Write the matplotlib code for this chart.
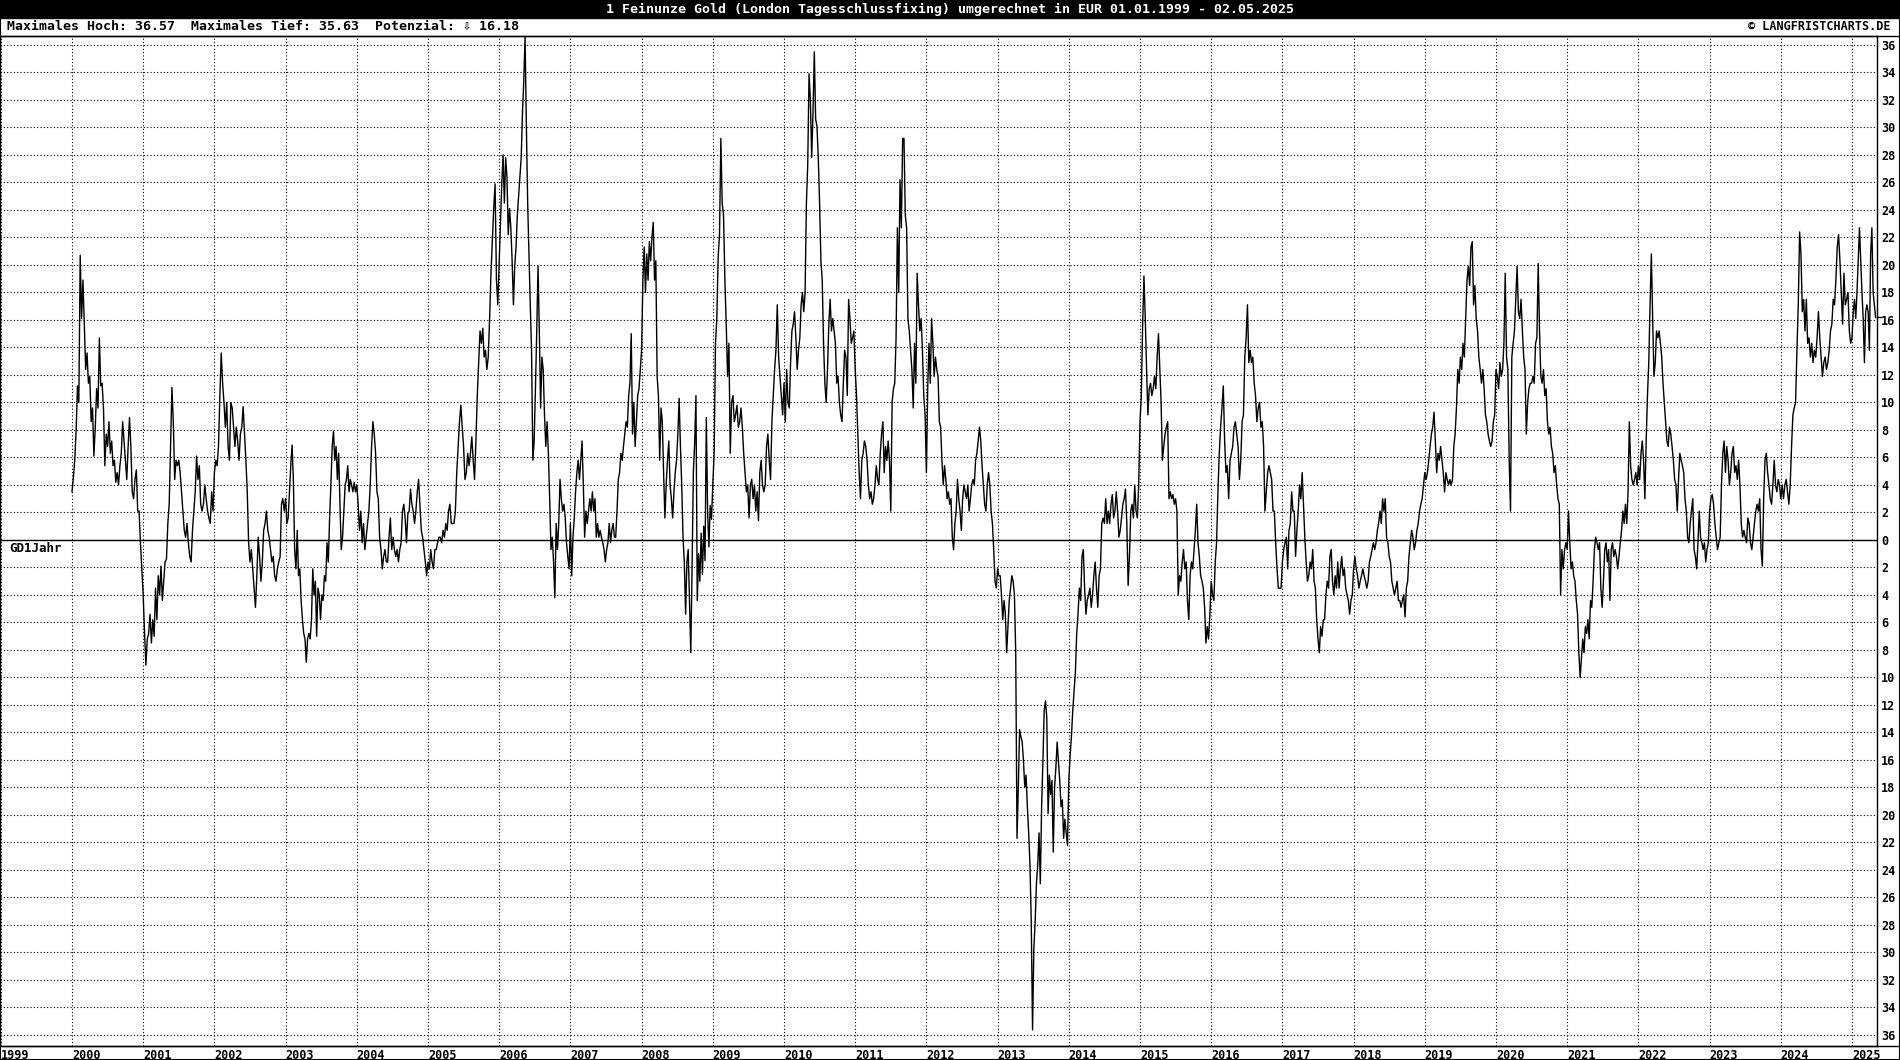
import matplotlib
matplotlib.use("Agg")
import matplotlib.pyplot as plt
import numpy as np
from matplotlib.lines import Line2D
from matplotlib.patches import Rectangle

plt.rcParams['font.family'] = ['DejaVu Sans Mono', 'DejaVu Sans']

title = "1 Feinunze Gold (London Tagesschlussfixing) umgerechnet in EUR 01.01.1999 - 02.05.2025"
info = "Maximales Hoch: 36.57  Maximales Tief: 35.63  Potenzial: \u21e9 16.18"
credit = "\u00a9 LANGFRISTCHARTS.DE"
series_label = "GD1Jahr"
current_value = 16.18

# GD1Jahr (% Abstand zum 1-Jahres-Durchschnitt), roughly weekly per year
gd_2000 = [3.5, 4.5, 5.8, 7.9, 11.2, 10.0, 20.7, 16.1, 18.9, 15.7, 12.4, 13.6, 11.4, 11.9, 8.6, 9.6, 6.1, 8.2,
           11.0, 9.6, 14.7, 11.2, 11.4, 9.6, 5.4, 7.7, 6.8, 8.6, 6.3, 7.2, 5.4, 5.8, 4.2, 4.9, 4.0, 5.4, 6.3, 8.6,
           7.2, 5.8, 4.4, 6.8, 8.9, 6.8, 3.5, 3.0, 4.4, 5.1, 2.1, 2.1, -0.2, -2.1]
gd_2001 = [-4.0, -6.8, -9.1, -7.2, -6.8, -5.4, -7.5, -5.8, -7.0, -3.5, -5.8, -2.6, -4.0, -1.9, -4.4, -3.0, -1.6,
           -1.4, 1.2, 2.6, 6.8, 11.1, 8.6, 4.4, 5.8, 5.4, 5.8, 4.9, 3.5, 2.1, 0.7, 0.2, 1.2, -0.2, -1.2, -1.6, 0.7,
           2.1, 3.5, 6.1, 4.4, 5.4, 2.6, 2.1, 2.6, 4.0, 3.0, 2.1, 1.6, 1.2, 3.5, 2.1]
gd_2002 = [4.9, 5.8, 5.4, 6.8, 10.5, 13.6, 11.4, 10.0, 8.2, 10.0, 6.8, 5.8, 10.0, 9.6, 8.2, 6.8, 8.2, 7.2, 5.8,
           7.7, 8.2, 9.7, 7.7, 5.8, 3.5, -0.2, -1.6, -0.7, -2.1, -3.5, -4.9, -2.6, 0.2, -1.2, -3.0, -1.6, 0.7, 1.2,
           2.1, 0.7, 0.2, -0.7, -1.6, -1.2, -2.6, -3.0, -2.1, -1.6, -1.2, 2.6, 3.0, 2.1]
gd_2003 = [3.0, 1.2, 1.6, 3.5, 5.4, 6.9, 4.4, -0.7, -2.1, 0.7, -2.6, -2.1, -4.4, -5.8, -6.8, -7.2, -8.9, -7.2,
           -6.8, -7.2, -5.8, -2.1, -4.0, -3.0, -7.0, -3.5, -4.0, -5.8, -4.0, -4.4, -2.6, -3.0, -0.2, -1.6, 1.6, 4.0,
           6.8, 7.9, 5.8, 6.8, 4.4, 6.3, 2.6, -0.7, 0.2, 2.1, 4.0, 4.4, 5.4, 3.5, 4.4, 4.0, 3.5, 4.2, 3.5]
gd_2004 = [4.0, 2.6, 0.7, 2.1, -0.2, 1.2, -0.7, 0.2, 1.2, 2.1, 4.0, 6.8, 8.6, 7.7, 6.3, 3.5, 3.0, 0.2, -0.7,
           -2.1, -1.2, -0.7, -1.6, -1.6, 0.2, 1.6, -0.7, 0.2, -0.7, -1.2, -0.7, -1.6, -0.7, -0.2, 2.1, 2.6, 1.6,
           -0.2, 1.9, 2.1, 3.7, 2.6, 2.1, 1.2, 2.1, 3.5, 4.4, 2.6, 0.7, 0.2, -0.7, -1.6, -2.6]
gd_2005 = [-1.6, -2.1, -0.7, -1.6, -2.1, -0.7, -0.7, -0.2, 0.2, 0.2, -0.2, 0.7, 0.2, 1.2, 0.7, 2.1, 2.6, 1.2,
           1.2, 1.2, 2.1, 4.9, 6.8, 8.6, 9.8, 8.2, 6.8, 4.4, 4.9, 6.3, 5.4, 6.3, 7.5, 5.8, 4.4, 7.2, 10.5, 12.9,
           15.2, 14.3, 15.4, 13.3, 13.8, 12.4, 13.3, 16.1, 19.4, 21.7, 24.1, 25.9, 18.9, 17.1]
gd_2006 = [20.3, 23.1, 25.9, 28.0, 24.5, 27.8, 26.4, 22.2, 24.1, 22.7, 20.3, 17.1, 19.9, 21.3, 23.6, 25.0, 26.4,
           27.8, 31.1, 33.4, 36.57, 30.1, 24.5, 20.8, 17.1, 13.8, 5.8, 7.2, 11.0, 15.2, 19.9, 15.2, 9.6, 13.3, 12.4,
           9.1, 6.8, 8.6, 6.3, 3.0, -0.7, 0.2, -1.6, -4.2, 1.2, -0.7, 1.2, 4.4, 3.0, 2.1, 2.6, 1.6, -0.2, -1.2, -2.1]
gd_2007 = [1.2, -2.6, 0.2, 1.6, 3.5, 4.9, 5.8, 4.4, 5.8, 7.2, 4.0, 0.2, 2.1, 1.2, 2.1, 3.0, 2.1, 3.5, 2.1, 3.0,
           0.2, 1.2, 0.2, 0.7, 0.2, -0.2, -0.7, -1.6, -0.7, -0.2, 1.2, -0.2, 0.7, 1.2, 0.2, 0.2, 2.1, 4.4, 4.9, 6.3,
           5.8, 6.8, 7.7, 8.6, 8.2, 10.5, 11.4, 15.0, 7.7, 10.0, 6.8, 8.6, 10.5, 11.0, 12.4]
gd_2008 = [13.8, 18.9, 21.3, 18.0, 20.8, 18.9, 21.7, 20.3, 22.0, 23.1, 18.9, 20.3, 11.9, 10.5, 5.8, 9.6, 8.6,
           4.9, 1.6, 4.0, 5.8, 7.2, 4.0, 3.0, 1.6, 3.5, 4.9, 5.8, 7.7, 10.3, 6.8, 4.0, 0.2, -1.6, -5.4, -1.6, -0.7,
           -4.4, -8.2, -2.0, 5.0, 7.0, 10.5, -4.4, -1.0, -3.0, 0.5, -2.5, 1.0, -1.5, 8.9, 2.0, -0.5, 2.5, 1.5]
gd_2009 = [4.0, 6.3, 14.3, 16.1, 20.6, 22.2, 29.2, 24.5, 23.6, 18.9, 15.7, 11.9, 14.3, 6.3, 10.0, 10.5, 8.6,
           9.1, 9.8, 8.2, 8.6, 9.6, 8.2, 6.3, 4.9, 3.5, 4.0, 1.6, 4.0, 4.4, 3.0, 4.0, 2.1, 3.5, 1.4, 4.9, 5.8, 4.0,
           3.5, 4.0, 6.8, 7.7, 5.8, 4.4, 8.6, 10.5, 12.4, 13.8, 17.1, 13.3, 11.9, 10.5, 9.1]
gd_2010 = [11.4, 8.6, 12.4, 10.0, 9.6, 12.9, 15.2, 15.7, 16.6, 14.7, 12.4, 13.8, 14.7, 17.1, 18.0, 16.6, 18.0,
           24.5, 27.3, 33.9, 32.0, 27.8, 31.1, 35.5, 30.6, 30.1, 27.8, 24.5, 20.3, 18.9, 14.3, 11.4, 10.0, 12.4,
           15.7, 17.5, 15.2, 16.1, 15.2, 14.3, 11.4, 11.9, 10.0, 9.1, 8.6, 11.4, 13.8, 13.3, 10.5, 17.5, 16.1, 14.3,
           14.7, 15.2]
gd_2011 = [12.4, 10.5, 7.7, 4.9, 3.0, 5.8, 6.3, 7.2, 6.8, 5.8, 4.0, 3.0, 3.5, 2.6, 3.0, 4.0, 5.4, 4.4, 4.0, 6.3,
           7.7, 8.6, 4.9, 6.8, 5.8, 7.2, 5.8, 2.1, 10.0, 11.0, 11.4, 14.7, 22.7, 18.0, 26.2, 22.7, 29.2, 29.2, 23.6,
           22.7, 16.1, 15.2, 13.8, 12.4, 9.6, 14.3, 11.4, 19.4, 17.1, 15.2, 16.1, 13.8, 10.5, 9.1]
gd_2012 = [4.9, 11.0, 14.3, 11.4, 16.1, 14.3, 11.9, 13.3, 12.4, 11.9, 8.6, 8.2, 5.8, 4.0, 5.4, 4.4, 3.0, 3.5,
           2.6, 3.0, 0.2, -0.7, 1.2, 2.1, 4.4, 3.0, 2.1, 0.7, 3.0, 4.0, 3.5, 3.0, 4.0, 2.1, 3.0, 4.0, 4.4, 4.0, 5.8,
           6.3, 7.2, 8.2, 7.2, 5.4, 4.0, 2.6, 2.1, 4.0, 4.9, 4.0, 2.1, 1.2, -0.7, -3.0, -3.5]
gd_2013 = [-2.1, -2.6, -2.6, -4.0, -5.8, -4.4, -5.4, -8.2, -6.3, -4.4, -3.5, -2.6, -3.0, -4.0, -8.2, -21.7,
           -18.0, -13.8, -14.3, -14.7, -16.1, -18.0, -17.1, -19.4, -21.3, -23.6, -27.8, -35.63, -29.7, -27.8, -25.0,
           -23.6, -21.3, -25.0, -19.4, -16.1, -12.4, -11.7, -12.9, -19.9, -17.1, -18.5, -17.5, -22.7, -18.0, -16.6,
           -14.7, -16.1, -17.5, -19.4, -18.9, -21.7, -20.3, -21.3, -22.2]
gd_2014 = [-17.5, -15.7, -14.3, -12.4, -11.0, -9.6, -6.8, -5.4, -3.5, -4.4, -1.2, -0.7, -3.5, -5.4, -4.4, -4.0,
           -3.5, -4.9, -4.0, -2.6, -1.6, -3.5, -4.9, -2.6, -2.1, 1.2, 1.6, 1.2, 3.0, 1.2, 2.1, 1.2, 2.6, 3.3, 1.6,
           2.1, 3.5, 2.1, 0.2, 0.7, 1.6, 2.6, 3.0, 3.7, 1.2, -3.3, -1.2, 2.1, 2.6, 1.6, 4.0, 2.1, 1.6, 4.0]
gd_2015 = [8.6, 10.5, 15.7, 19.2, 16.1, 12.4, 9.1, 11.0, 11.4, 10.5, 11.0, 11.9, 11.0, 13.3, 15.0, 12.4, 10.0,
           5.8, 6.8, 7.7, 8.2, 8.6, 3.0, 3.5, 3.0, 3.3, 2.6, 3.0, 2.1, -4.0, -2.6, -3.0, -1.6, -0.7, -2.1, -1.6,
           -4.4, -5.8, -2.6, -1.6, -2.1, -0.7, 0.7, 2.6, -0.2, -1.2, -2.6, -3.0, -3.5, -4.9, -7.5, -6.3, -7.2, -5.4]
gd_2016 = [-3.0, -4.0, -4.4, -1.6, -0.2, 3.5, 6.3, 8.2, 9.6, 11.2, 7.2, 4.9, 5.4, 3.0, 5.8, 6.3, 6.8, 8.2, 8.6,
           7.7, 6.8, 4.4, 5.8, 8.6, 9.1, 13.3, 14.7, 17.1, 12.9, 13.8, 12.9, 13.3, 11.4, 10.5, 8.6, 9.6, 10.0, 8.2,
           8.6, 6.8, 2.1, 3.5, 4.9, 5.4, 4.9, 4.4, 2.1, 2.1, -0.2, -2.1, -3.5, -3.5, -3.5]
gd_2017 = [-1.6, -0.7, -0.2, 0.2, -2.1, 0.7, 1.2, 3.5, 2.1, 2.1, -1.2, 0.7, 2.1, 4.0, 3.0, 4.9, 2.6, 0.2, -1.6,
           -3.0, -2.6, -1.6, -2.1, -0.7, -3.0, -3.5, -5.8, -7.2, -8.2, -6.3, -7.0, -5.8, -5.8, -4.0, -3.0, -3.5,
           -1.2, -0.7, -3.0, -4.0, -2.6, -3.5, -1.6, -3.5, -2.1, -1.2, -2.6, -2.1, -3.5, -4.0, -4.4, -5.4, -4.4, -4.0]
gd_2018 = [-2.1, -1.2, -2.1, -2.6, -3.5, -3.0, -2.6, -2.1, -2.6, -3.0, -3.5, -3.0, -1.6, -1.2, -0.7, -0.2, -0.7,
           -0.2, 0.7, 1.2, 2.1, 1.2, 3.0, 2.1, 3.0, 0.2, -0.2, -1.2, -1.6, -3.0, -3.5, -4.0, -3.5, -3.0, -4.4, -4.4,
           -4.9, -4.4, -4.0, -5.6, -3.5, -3.0, -1.2, -0.2, 0.7, 0.2, -0.7, -0.2, 0.7, 1.2, 2.1, 2.6, 3.0, 4.0]
gd_2019 = [4.9, 4.4, 4.9, 5.8, 6.8, 7.7, 8.2, 9.3, 7.2, 4.9, 6.3, 5.8, 6.8, 5.8, 4.9, 3.5, 4.9, 4.4, 4.0, 4.4,
           4.0, 4.4, 6.8, 7.7, 9.6, 12.4, 11.4, 13.3, 12.4, 14.3, 13.3, 16.1, 18.9, 19.9, 18.5, 21.3, 21.7, 17.1,
           18.5, 16.1, 15.2, 13.3, 12.4, 11.4, 12.4, 11.0, 9.1, 8.6, 7.7, 7.2, 6.8, 7.2, 8.6, 9.1]
gd_2020 = [12.4, 11.9, 11.0, 12.9, 11.9, 12.4, 14.3, 19.4, 13.3, 12.4, 5.8, 2.1, 13.3, 14.3, 15.2, 17.5, 19.9,
           16.6, 16.1, 17.5, 15.2, 13.3, 12.4, 7.7, 10.0, 11.0, 11.4, 11.4, 11.9, 11.4, 14.3, 14.7, 20.1, 15.2, 11.9,
           11.4, 12.4, 10.5, 11.0, 8.6, 7.7, 8.2, 6.8, 6.3, 4.9, 5.4, 4.0, 3.0, 2.6, -4.0, -0.7, -2.1, -0.7, -0.2]
gd_2021 = [-0.7, 2.1, -0.2, -2.1, -1.6, -2.6, -3.0, -4.4, -5.4, -8.2, -10.0, -8.6, -7.2, -8.2, -6.3, -6.8, -5.8,
           -7.2, -4.4, -4.9, -3.0, -0.7, 0.2, -0.2, -0.7, -0.2, -3.5, -4.9, -3.0, -0.7, -0.2, -1.6, -0.7, -4.4, -0.7,
           -0.2, -1.2, -0.7, -1.2, -2.1, -1.2, -0.2, 0.7, 2.1, 1.2, 2.6, 1.2, 3.5, 8.6, 5.4, 4.4, 4.0, 4.4, 4.9, 4.0]
gd_2022 = [5.4, 4.4, 6.3, 7.2, 5.8, 3.0, 7.2, 10.5, 12.9, 17.1, 20.8, 16.1, 11.9, 12.9, 15.2, 14.7, 15.2, 14.3,
           13.3, 11.4, 10.0, 8.6, 7.2, 6.8, 8.2, 7.7, 6.8, 5.8, 4.4, 4.0, 2.1, 4.4, 6.3, 5.8, 5.4, 4.9, 3.0, 2.1,
           0.2, -0.2, 1.2, 2.1, 3.0, -0.7, -1.2, -2.1, -0.2, 2.1, 0.2, -0.2, -0.7, -0.2, -1.6, -0.7, -0.2]
gd_2023 = [2.1, 3.0, 3.3, 2.6, 1.2, 0.2, -0.7, -0.2, 0.2, 4.0, 6.3, 7.2, 4.9, 6.8, 5.8, 4.0, 4.9, 6.3, 6.8, 4.9,
           5.4, 4.4, 5.8, 4.0, 1.2, 0.2, 0.7, 0.2, -0.2, 1.6, 1.2, -0.2, -0.7, 0.2, 1.2, 2.1, 2.6, 2.1, 3.0, -0.7,
           -1.9, 3.0, 5.8, 6.3, 4.9, 4.0, 3.0, 2.6, 4.0, 5.8, 4.0, 3.5, 4.4, 4.0]
gd_2024 = [3.0, 4.0, 3.0, 4.0, 4.4, 3.5, 2.6, 4.0, 6.8, 9.1, 9.6, 10.0, 13.8, 17.1, 22.4, 20.8, 16.6, 17.5, 15.2,
           17.5, 14.3, 14.7, 13.3, 14.3, 12.9, 13.8, 13.3, 14.7, 16.6, 14.7, 13.3, 11.9, 12.9, 13.3, 12.4, 12.9,
           13.8, 15.2, 15.7, 17.5, 17.1, 18.9, 21.3, 22.2, 20.3, 18.0, 15.7, 19.4, 17.1, 17.5, 18.0, 15.2, 14.3]
gd_2025 = [14.7, 16.6, 17.5, 16.1, 18.0, 20.3, 22.7, 20.3, 18.0, 16.1, 12.9, 16.6, 17.1, 16.6, 13.8, 20.8, 22.7,
           18.0, 17.1, 16.18]

years = list(range(2000, 2026))
gd_by_year = [gd_2000, gd_2001, gd_2002, gd_2003, gd_2004, gd_2005, gd_2006, gd_2007, gd_2008, gd_2009,
              gd_2010, gd_2011, gd_2012, gd_2013, gd_2014, gd_2015, gd_2016, gd_2017, gd_2018, gd_2019,
              gd_2020, gd_2021, gd_2022, gd_2023, gd_2024, gd_2025]
last_day = 2025 + 121 / 365.0  # 02.05.2025

xs, ys = [], []
for yr, vals in zip(years, gd_by_year):
    if yr == 2025:
        xs.extend(np.linspace(yr, last_day, len(vals)))
    else:
        xs.extend(np.linspace(yr, yr + 1, len(vals), endpoint=False))
    ys.extend(vals)

W, H = 1900, 1060
fig = plt.figure(figsize=(W / 100, H / 100), dpi=100)
ax = fig.add_axes([0, (H - 1046) / H, 1877 / W, 1010 / H])

ax.plot(xs, ys, color='black', lw=1.0, zorder=3)
ax.axhline(0, color='black', lw=1.0, zorder=2)

ax.set_xlim(1998.989, 2025.351)
ax.set_ylim(-36.8, 36.65)

yt = list(range(-36, 37, 2))
ax.set_yticks(yt)
ax.set_yticklabels([str(abs(v)) for v in yt])
ax.yaxis.tick_right()
ax.tick_params(axis='y', length=0, pad=3, labelsize=8.5)

xt = list(range(1999, 2026))
ax.set_xticks(xt)
ax.set_xticklabels([str(v) for v in xt])
ax.tick_params(axis='x', length=0, pad=2, labelsize=8.5)
for lbl in ax.get_xticklabels():
    lbl.set_horizontalalignment('left')
    lbl.set_fontweight('bold')
for lbl in ax.get_yticklabels():
    lbl.set_fontweight('bold')

ax.grid(True, color='black', lw=0.8, ls=(0, (1, 2)), zorder=1)
for s in ax.spines.values():
    s.set_color('black')
    s.set_linewidth(1.0)

ax.text(9 / 1877, -0.6, series_label, transform=ax.get_yaxis_transform(), ha='left', va='center',
        fontsize=9, fontweight='bold')

# marker of the current value on the right axis
ax.add_line(Line2D([1.0, 1.0 + 4 / 1877], [current_value, current_value], color='black', lw=1,
                   transform=ax.get_yaxis_transform(), clip_on=False))

# header
fig.patches.append(Rectangle((0, 1 - 18 / H), 1, 18 / H, transform=fig.transFigure, color='black'))
fig.text(0.5, 1 - 9.5 / H, title, color='white', ha='center', va='center', fontsize=9.5, fontweight='bold')
fig.text(7 / W, 1 - 27 / H, info, ha='left', va='center', fontsize=9.5, fontweight='bold')
fig.text(1890 / W, 1 - 27 / H, credit, ha='right', va='center', fontsize=8.5, fontweight='bold')

# frame lines
fig.add_artist(Line2D([0, 1], [1 - 36 / H] * 2, color='black', lw=1, transform=fig.transFigure))
fig.add_artist(Line2D([0, 1], [1 - 1046 / H] * 2, color='black', lw=1, transform=fig.transFigure))
fig.add_artist(Rectangle((0, 0), 1, 1, fill=False, edgecolor='black', lw=1.5, transform=fig.transFigure))

fig.savefig("out.png", dpi=100)
